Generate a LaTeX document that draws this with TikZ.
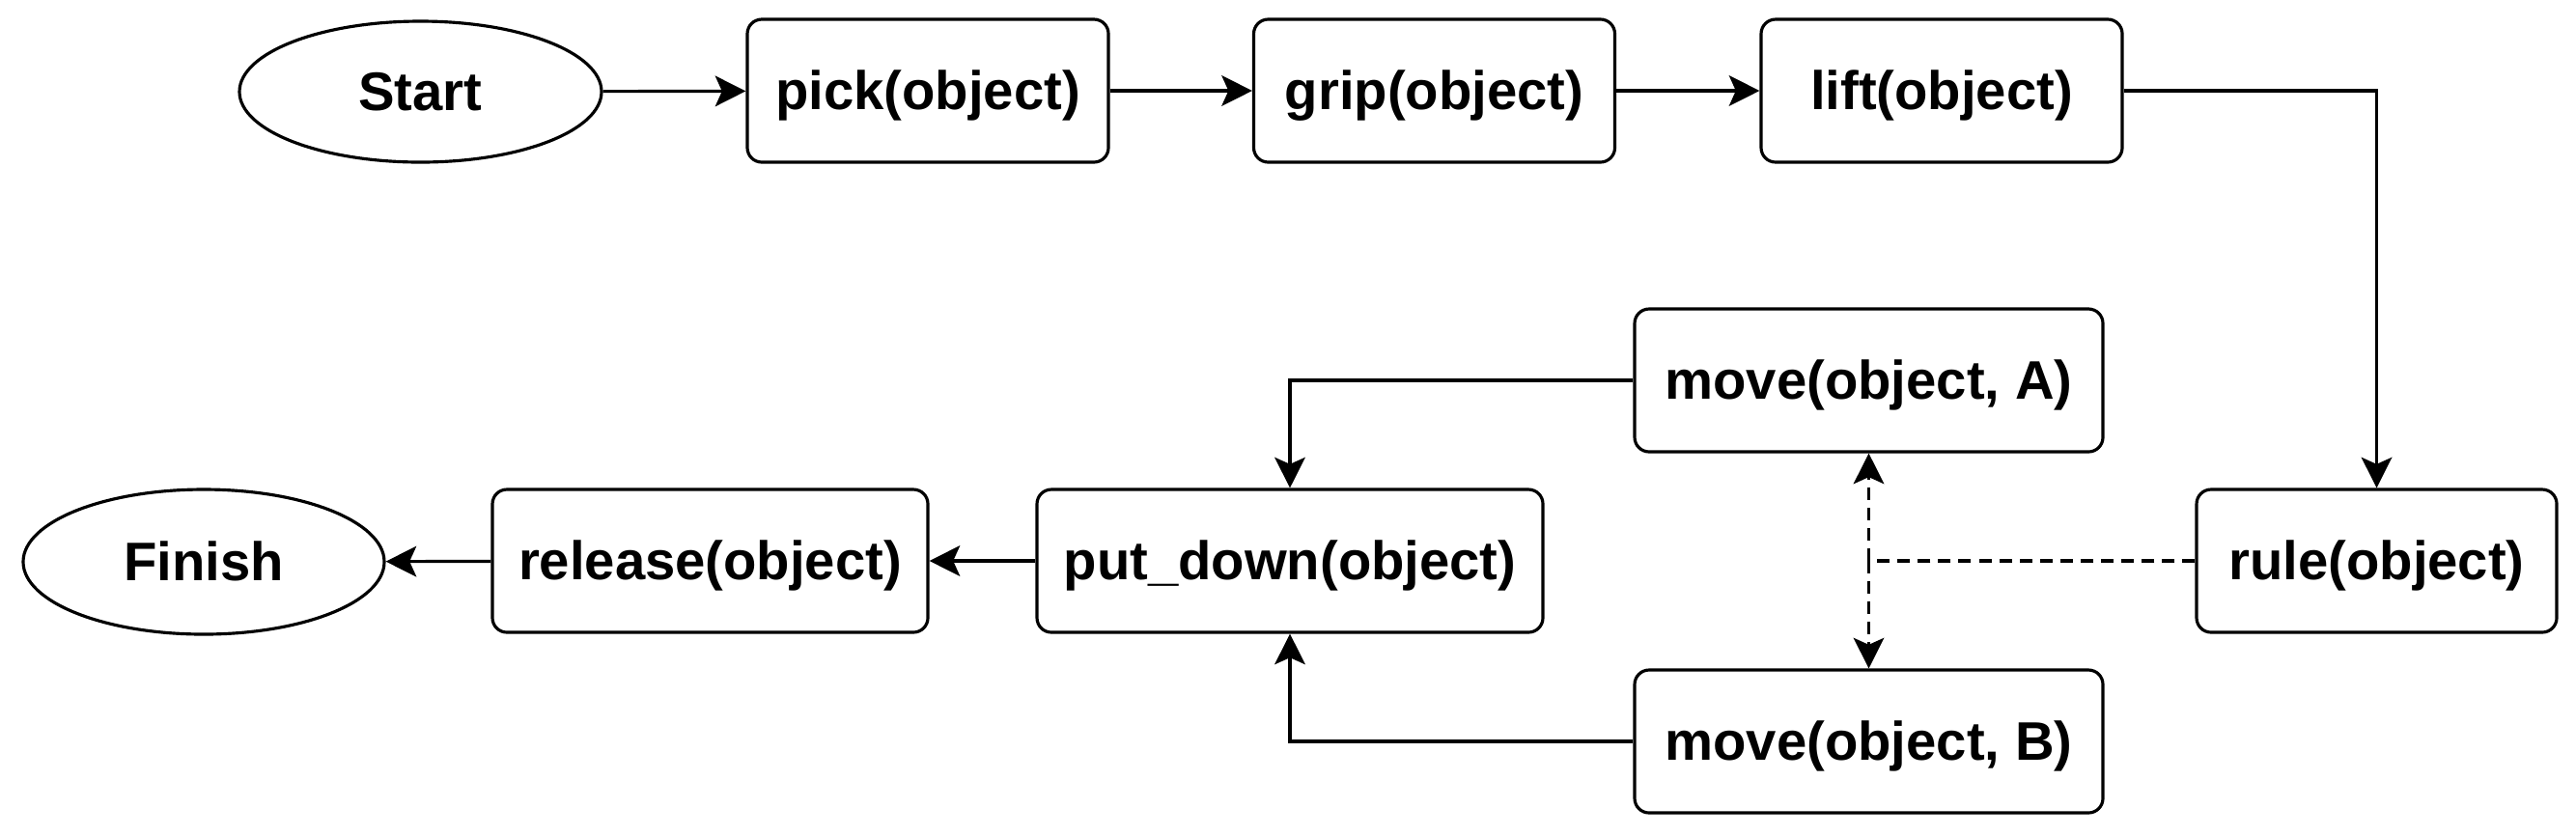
\documentclass[tikz,border=0pt]{standalone}
\usepackage{fontspec}
\setmainfont{Liberation Sans}
\usetikzlibrary{shapes.geometric,arrows.meta}
\begin{document}
\begin{tikzpicture}[
  every node/.style={font=\bfseries\fontsize{16}{19}\selectfont, line width=0.9pt, draw=black, text height=14.5pt, text depth=3.4pt},
  box/.style={rectangle, rounded corners=0.15cm, minimum height=1.48cm, inner sep=0pt},
  oval/.style={ellipse, inner sep=0pt},
  conn/.style={line width=0.9pt, -{Stealth[length=9pt,width=9pt,inset=2pt]}},
  dconn/.style={conn, dash pattern=on 3.7pt off 2.3pt},
]
\useasboundingbox (0,0) rectangle (26.68,-8.65);
\node[oval, minimum width=3.75cm, minimum height=1.46cm] (start) at (4.355,-0.95) {Start};
\node[box, minimum width=3.74cm] (pick) at (9.61,-0.94) {pick(object)};
\node[box, minimum width=3.74cm] (grip) at (14.855,-0.94) {grip(object)};
\node[box, minimum width=3.74cm] (lift) at (20.11,-0.94) {lift(object)};
\node[box, minimum width=4.85cm] (moveA) at (19.355,-3.94) {move(object, A)};
\node[box, minimum width=3.73cm] (rule) at (24.615,-5.81) {rule(object)};
\node[box, minimum width=4.85cm] (moveB) at (19.355,-7.68) {move(object, B)};
\node[box, minimum width=5.24cm] (put) at (13.36,-5.81) {put\_down(object)};
\node[box, minimum width=4.51cm] (release) at (7.355,-5.81) {release(object)};
\node[oval, minimum width=3.74cm, minimum height=1.50cm] (finish) at (2.11,-5.82) {Finish};
\coordinate (junc) at (moveA.south |- rule.west);
\draw[conn] (start) -- (pick);
\draw[conn] (pick) -- (grip);
\draw[conn] (grip) -- (lift);
\draw[conn] (lift.east) -| (rule.north);
\draw[conn] (moveA.west) -| (put.north);
\draw[conn] (moveB.west) -| (put.south);
\draw[conn] (put) -- (release);
\draw[conn] (release) -- (finish);
\draw[line width=0.9pt, dash pattern=on 3.7pt off 2.3pt] (rule.west) -- (junc);
\draw[dconn] (junc) -- (moveA.south);
\draw[dconn] (junc) -- (moveB.north);
\end{tikzpicture}
\end{document}
